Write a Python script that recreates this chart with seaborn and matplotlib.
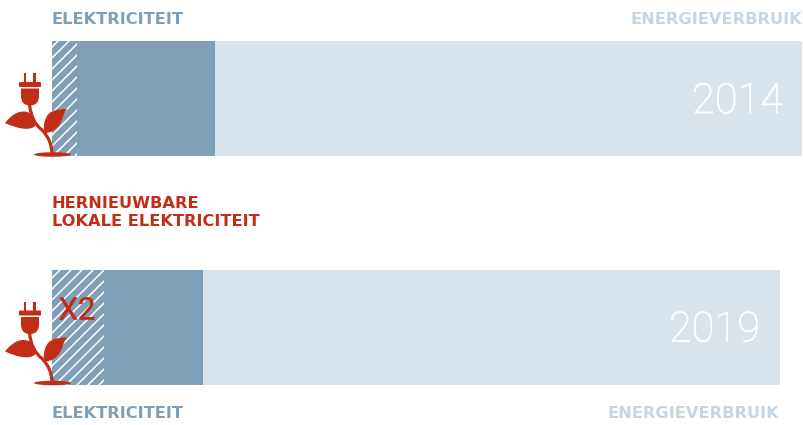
import matplotlib
matplotlib.use("Agg")
import matplotlib.pyplot as plt
import matplotlib.patheffects as pe
import seaborn as sns
from matplotlib.patches import Ellipse, FancyBboxPatch, PathPatch, Rectangle
from matplotlib.path import Path

jaren = ["2014", "2019"]
energieverbruik = [100.0, 97.1]
elektriciteit = [21.7, 20.2]
hernieuwbaar = [3.3, 6.9]

LICHT = "#d9e3ec"
BLAUW = "#7f9fb6"
TEKST_LICHT = "#c5d5e2"
ROOD = "#c22d15"

DPI = 66
W, H = 803, 425
PX = 72 / DPI

sns.set_theme(style="white")
plt.rcParams["font.family"] = ["DejaVu Sans"]
plt.rcParams["hatch.linewidth"] = 1.7

fig = plt.figure(figsize=(W / DPI, H / DPI), dpi=DPI)
ax = fig.add_axes([0, 0, 1, 1])

sns.barplot(x=energieverbruik, y=jaren, orient="h", color=LICHT, saturation=1, width=0.502, linewidth=0, ax=ax)
sns.barplot(x=elektriciteit, y=jaren, orient="h", color=BLAUW, saturation=1, width=0.502, linewidth=0, ax=ax)
n = len(ax.patches)
sns.barplot(x=hernieuwbaar, y=jaren, orient="h", color=BLAUW, saturation=1, width=0.502, linewidth=0, ax=ax)
for p in ax.patches[n:]:
    p.set_hatch("//")
    p.set_edgecolor("white")
    p.set_linewidth(0)

# 7.5 px per unit, bar 0 starts at x=52 and is centred on y=98.5
ax.set_xlim(-52 / 7.5, (W - 52) / 7.5)
ax.set_ylim((H - 98.5) / 229, -98.5 / 229)
ax.axis("off")

# second axes in pixels for the labels and the icons
ov = fig.add_axes([0, 0, 1, 1])
ov.set_xlim(0, W)
ov.set_ylim(H, 0)
ov.axis("off")
ov.patch.set_alpha(0)


def label(x, y, s, color, size, ha="left", weight="bold", family=None, stroke=0):
    t = ov.text(x, y, s, color=color, fontsize=size * PX, ha=ha, va="center", fontweight=weight, family=family)
    if stroke:
        t.set_path_effects([pe.withStroke(linewidth=stroke, foreground=color)])


def plant(dy):
    # plug
    ov.add_patch(Rectangle((23.5, 73 + dy), 2.6, 10, color=ROOD, lw=0))
    ov.add_patch(Rectangle((33, 73 + dy), 2.6, 10, color=ROOD, lw=0))
    ov.add_patch(FancyBboxPatch((20, 83 + dy), 20, 3, boxstyle="round,pad=1", color=ROOD, lw=0))
    body = Path(
        [(21, 88.5 + dy), (39, 88.5 + dy), (39, 96 + dy), (39, 105.5 + dy), (30, 105.5 + dy), (21, 105.5 + dy), (21, 96 + dy), (21, 88.5 + dy)],
        [Path.MOVETO, Path.LINETO, Path.LINETO, Path.CURVE3, Path.CURVE3, Path.CURVE3, Path.CURVE3, Path.LINETO],
    )
    ov.add_patch(PathPatch(body, color=ROOD, lw=0))
    # stem
    stem = Path(
        [(29.5, 104 + dy), (31, 122 + dy), (42, 130 + dy), (52, 140 + dy), (52, 154 + dy)],
        [Path.MOVETO, Path.CURVE3, Path.CURVE3, Path.CURVE3, Path.CURVE3],
    )
    ov.add_patch(PathPatch(stem, facecolor="none", edgecolor=ROOD, lw=3.2 * PX))
    # leaves
    c4 = Path.CURVE4
    links = Path(
        [(5, 123 + dy), (12, 114 + dy), (20, 110 + dy), (27, 112 + dy), (33, 113 + dy), (37, 122 + dy), (35, 126 + dy), (30, 131 + dy), (18, 129 + dy), (5, 123 + dy)],
        [Path.MOVETO, c4, c4, c4, c4, c4, c4, c4, c4, c4],
    )
    rechts = Path(
        [(67, 109 + dy), (55, 109 + dy), (48, 112 + dy), (46, 118 + dy), (43, 124 + dy), (43, 131 + dy), (46, 133 + dy), (55, 132 + dy), (61, 125 + dy), (63, 117 + dy), (64, 114 + dy), (65, 111 + dy), (67, 109 + dy)],
        [Path.MOVETO, c4, c4, c4, c4, c4, c4, c4, c4, c4, c4, c4, c4],
    )
    ov.add_patch(PathPatch(links, color=ROOD, lw=0))
    ov.add_patch(PathPatch(rechts, color=ROOD, lw=0))
    ov.add_patch(Ellipse((52.5, 154.5 + dy), 37, 4.5, color=ROOD, lw=0))


plant(0)
plant(228.5)

label(51.5, 19, "ELEKTRICITEIT", BLAUW, 16.3)
label(802, 19, "ENERGIEVERBRUIK", TEKST_LICHT, 16.3, ha="right")
label(51.5, 203, "HERNIEUWBARE", ROOD, 16.3)
label(51.5, 221, "LOKALE ELEKTRICITEIT", ROOD, 16.3)
label(51.5, 414, "ELEKTRICITEIT", BLAUW, 16.3)
label(779, 414, "ENERGIEVERBRUIK", TEKST_LICHT, 16.3, ha="right")
label(783, 101.5, "2014", "white", 41.6, ha="right", weight="light", family="Roboto", stroke=0.6)
label(760, 330, "2019", "white", 41.6, ha="right", weight="light", family="Roboto", stroke=0.6)
label(58.5, 311, "X2", ROOD, 31, weight="normal", family="Roboto", stroke=0.3)

fig.savefig("out.png", dpi=DPI)
